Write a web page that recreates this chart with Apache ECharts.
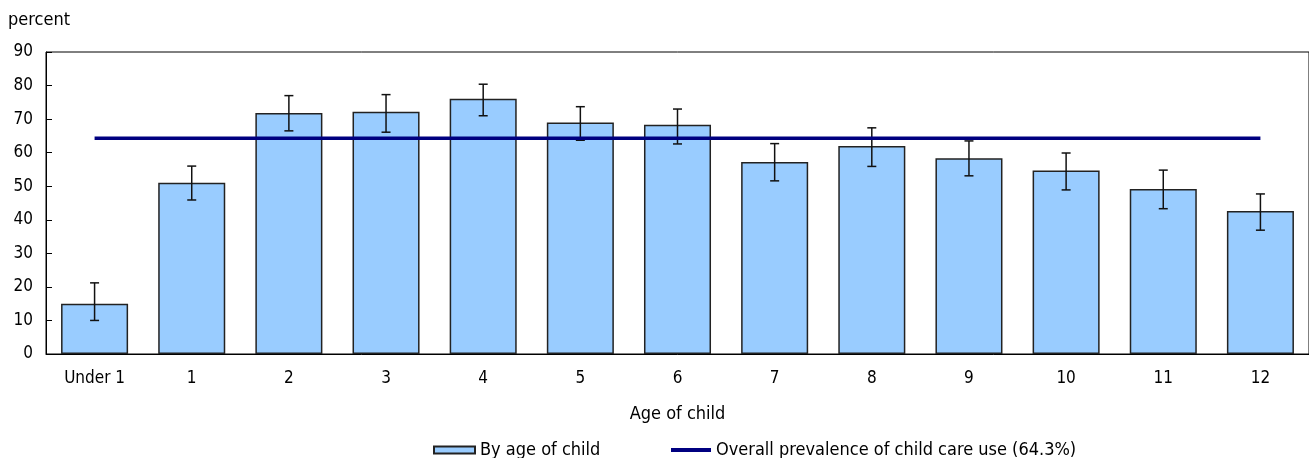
<!DOCTYPE html>
<html>
<head>
<meta charset="utf-8">
<script src="https://cdn.jsdelivr.net/npm/echarts@6/dist/echarts.min.js"></script>
<style>
  html, body { margin: 0; padding: 0; background: #fff; }
  #chart { width: 1309px; height: 458px; }
</style>
</head>
<body>
<div id="chart"></div>
<script>
// Child care use by age of child, with 95% confidence intervals
const categories = ['Under 1', '1', '2', '3', '4', '5', '6', '7', '8', '9', '10', '11', '12'];
const byAge = [15.0, 51.0, 71.8, 72.2, 76.1, 69.0, 68.3, 57.2, 62.0, 58.3, 54.7, 49.2, 42.6];
const ciLow = [10.0, 45.9, 66.5, 66.1, 71.0, 63.7, 62.6, 51.6, 55.9, 53.1, 48.9, 43.3, 36.9];
const ciHigh = [21.2, 56.0, 77.0, 77.3, 80.4, 73.7, 73.0, 62.7, 67.4, 63.5, 59.9, 54.8, 47.7];
const overall = 64.3;
const yTicks = [0, 10, 20, 30, 40, 50, 60, 70, 80, 90];

const BAR_NAME = 'By age of child';
const LINE_NAME = 'Overall prevalence of child care use (64.3%)';

const FONT = "'Liberation Sans Narrow', 'DejaVu Sans Condensed', sans-serif";
const legendText = { fontFamily: FONT, fontSize: 18, color: '#000' };

const chart = echarts.init(document.getElementById('chart'), null, { renderer: 'canvas' });

const errData = categories.map((c, i) => [i, ciLow[i], ciHigh[i]]);

chart.setOption({
  animation: false,
  textStyle: { fontFamily: FONT, color: '#000' },
  title: {
    text: 'percent',
    left: 3, top: 6,
    textStyle: { fontFamily: FONT, fontSize: 18, fontWeight: 'normal', color: '#000' }
  },
  grid: {
    left: 46, top: 52, width: 1264, bottom: 104,
    show: true, borderColor: '#000', borderWidth: 1, backgroundColor: 'transparent'
  },
  legend: [
    {
      left: 433, top: 441, padding: 0,
      itemWidth: 41, itemHeight: 7, itemGap: 4,
      textStyle: legendText,
      data: [{ name: BAR_NAME, icon: 'rect' }]
    },
    {
      left: 671, top: 441, padding: 0,
      itemWidth: 40, itemHeight: 4,
      textStyle: legendText,
      data: [{ name: LINE_NAME, icon: 'rect' }]
    }
  ],
  xAxis: {
    type: 'category',
    data: categories,
    axisLine: { show: true, lineStyle: { color: '#000', width: 1 } },
    axisTick: { show: false },
    axisLabel: { fontFamily: FONT, fontSize: 17, color: '#000', margin: 16 },
    name: 'Age of child',
    nameLocation: 'middle',
    nameGap: 51,
    nameTextStyle: { fontFamily: FONT, fontSize: 18, color: '#000' }
  },
  yAxis: {
    type: 'value',
    min: yTicks[0],
    max: yTicks[yTicks.length - 1],
    interval: 10,
    axisLine: { show: true, lineStyle: { color: '#000', width: 1 } },
    axisTick: { show: true, inside: true, length: 6, lineStyle: { color: '#000' } },
    splitLine: { show: false },
    axisLabel: { fontFamily: FONT, fontSize: 17, color: '#000', margin: 13 }
  },
  series: [
    {
      name: BAR_NAME,
      type: 'bar',
      data: byAge,
      barWidth: '69%',
      itemStyle: { color: '#99CCFF', borderColor: '#222', borderWidth: 1.5 },
      z: 2
    },
    {
      name: 'CI',
      type: 'custom',
      data: errData,
      z: 3,
      renderItem: function (params, api) {
        const x = api.value(0);
        const lo = api.coord([x, api.value(1)]);
        const hi = api.coord([x, api.value(2)]);
        const half = 4.5;
        const style = { stroke: '#111', lineWidth: 1.5, fill: null };
        return {
          type: 'group',
          children: [
            { type: 'line', shape: { x1: lo[0], y1: lo[1], x2: hi[0], y2: hi[1] }, style },
            { type: 'line', shape: { x1: hi[0] - half, y1: hi[1], x2: hi[0] + half, y2: hi[1] }, style },
            { type: 'line', shape: { x1: lo[0] - half, y1: lo[1], x2: lo[0] + half, y2: lo[1] }, style }
          ]
        };
      }
    },
    {
      name: LINE_NAME,
      type: 'line',
      data: categories.map(() => overall),
      symbol: 'none',
      lineStyle: { color: '#000080', width: 3.5 },
      itemStyle: { color: '#000080' },
      z: 4
    }
  ]
});
</script>
</body>
</html>
